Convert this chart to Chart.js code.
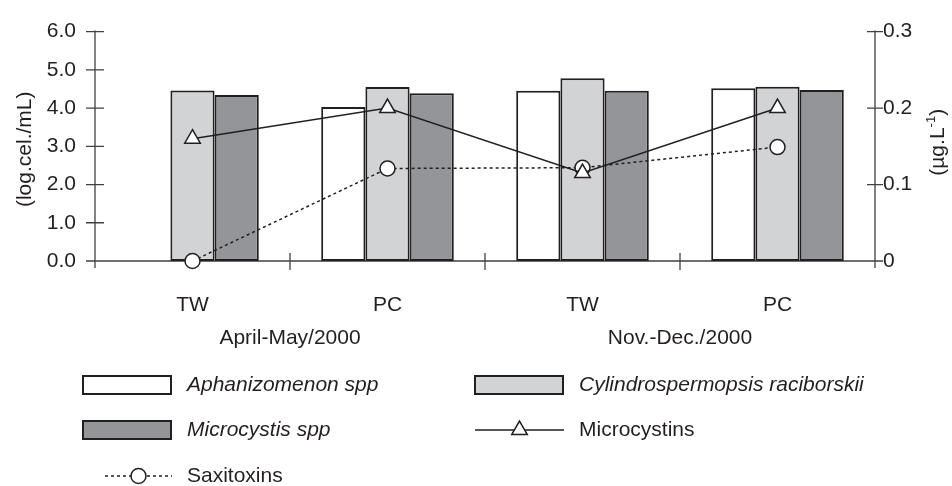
<!DOCTYPE html>
<html>
<head>
<meta charset="utf-8">
<script src="https://cdn.jsdelivr.net/npm/chart.js@4.4.1/dist/chart.umd.min.js"></script>
<style>
  html, body { margin: 0; padding: 0; background: #fff; }
</style>
</head>
<body>
<canvas id="chart" width="952" height="486"></canvas>
<script>
// values
const sites = ["TW", "PC", "TW", "PC"];
const periods = ["April-May/2000", "Nov.-Dec./2000"];
const aphanizomenon = [null, 4.03, 4.45, 4.52];   // log cel/mL
const cylindro = [4.46, 4.55, 4.78, 4.56];
const microcystis = [4.34, 4.39, 4.45, 4.47];
const microcystins = [0.16, 0.2, 0.115, 0.2];     // ug/L
const saxitoxins = [0, 0.121, 0.122, 0.149];
const cellTicks = [0, 1, 2, 3, 4, 5, 6];
const toxinTicks = [0, 0.1, 0.2, 0.3];

const ink = "#231f20";
const axisColor = "#414042";
const font = "Liberation Sans, Arial, sans-serif";

const axesPlugin = {
    id: "axes",
    beforeDatasetsDraw(chart) {
        const { ctx, chartArea: a, scales } = chart;
        ctx.save();
        ctx.strokeStyle = axisColor;
        ctx.lineWidth = 1.3;
        ctx.beginPath();
        // left axis + crossing ticks
        ctx.moveTo(a.left, a.top - 1);
        ctx.lineTo(a.left, a.bottom + 7);
        cellTicks.forEach(v => {
            const y = scales.y.getPixelForValue(v);
            ctx.moveTo(a.left - 9, y);
            ctx.lineTo(a.left + 9, y);
        });
        // right axis
        ctx.moveTo(a.right, a.top - 1);
        ctx.lineTo(a.right, a.bottom + 7);
        toxinTicks.forEach(v => {
            const y = scales.y1.getPixelForValue(v);
            ctx.moveTo(a.right - 8, y);
            ctx.lineTo(a.right + 8, y);
        });
        // bottom axis and category boundaries
        ctx.moveTo(a.left, a.bottom);
        ctx.lineTo(a.right, a.bottom);
        const half = (scales.x.getPixelForValue(1) - scales.x.getPixelForValue(0)) / 2;
        for (let i = 1; i < sites.length; i++) {
            const x = scales.x.getPixelForValue(i) - half;
            ctx.moveTo(x, a.bottom - 8);
            ctx.lineTo(x, a.bottom + 9);
        }
        ctx.stroke();
        ctx.restore();
    },
    afterDraw(chart) {
        const { ctx, chartArea: a, scales } = chart;
        const ds = chart.data.datasets;
        ctx.save();
        ctx.fillStyle = ink;
        ctx.textBaseline = "middle";

        // period labels under each pair of sites
        ctx.font = "21px " + font;
        ctx.textAlign = "center";
        periods.forEach((p, i) => {
            const x = (scales.x.getPixelForValue(i * 2) + scales.x.getPixelForValue(i * 2 + 1)) / 2;
            ctx.fillText(p, x, 338);
        });

        // axis titles
        const midY = (a.top + a.bottom) / 2;
        ctx.save();
        ctx.translate(25, midY + 3);
        ctx.rotate(-Math.PI / 2);
        ctx.fillText("(log.cel./mL)", 0, 0);
        ctx.restore();

        ctx.save();
        ctx.translate(938, midY - 4);
        ctx.rotate(-Math.PI / 2);
        ctx.textAlign = "left";
        const main = "(µg.L";
        ctx.font = "21px " + font;
        const w1 = ctx.measureText(main).width;
        const w3 = ctx.measureText(")").width;
        ctx.font = "13px " + font;
        const w2 = ctx.measureText("-1").width;
        let x0 = -(w1 + w2 + w3) / 2;
        ctx.font = "21px " + font;
        ctx.fillText(main, x0, 0);
        ctx.font = "13px " + font;
        ctx.fillText("-1", x0 + w1, -7);
        ctx.font = "21px " + font;
        ctx.fillText(")", x0 + w1 + w2, 0);
        ctx.restore();

        // legend
        const slots = [
            { d: 0, x: 83, y: 385 },
            { d: 1, x: 475, y: 385 },
            { d: 2, x: 83, y: 430 },
            { d: 3, x: 475, y: 430 },
            { d: 4, x: 83, y: 476 }
        ];
        slots.forEach(s => {
            const set = ds[s.d];
            if (set.type === "line") {
                const x1 = s.d === 4 ? s.x + 22 : s.x;
                const x2 = s.x + 89;
                const cx = (x1 + x2) / 2;
                ctx.save();
                ctx.strokeStyle = set.borderColor;
                ctx.lineWidth = set.borderWidth;
                ctx.setLineDash(set.borderDash || []);
                ctx.beginPath();
                ctx.moveTo(x1, s.y);
                ctx.lineTo(x2, s.y);
                ctx.stroke();
                ctx.setLineDash([]);
                ctx.lineWidth = 1.5;
                ctx.fillStyle = "#fff";
                ctx.strokeStyle = ink;
                Chart.helpers.drawPoint(ctx, {
                    pointStyle: set.pointStyle,
                    radius: set.pointRadius,
                    borderWidth: 1.5,
                    rotation: 0
                }, cx, s.y);
                ctx.restore();
                ctx.font = "21px " + font;
            } else {
                ctx.fillStyle = set.backgroundColor;
                ctx.fillRect(s.x, s.y - 9, 88, 18);
                ctx.strokeStyle = ink;
                ctx.lineWidth = 2;
                ctx.strokeRect(s.x, s.y - 9, 88, 18);
                ctx.font = "italic 21px " + font;
            }
            ctx.fillStyle = ink;
            ctx.textAlign = "left";
            ctx.fillText(set.label, s.x + 104, s.y);
        });
        ctx.restore();
    }
};

const barStyle = {
    type: "bar",
    yAxisID: "y",
    order: 2,
    borderColor: ink,
    borderWidth: 2,
    borderSkipped: false,
    categoryPercentage: 0.68,
    barPercentage: 1
};

const lineStyle = {
    type: "line",
    yAxisID: "y1",
    order: 1,
    borderColor: ink,
    borderWidth: 1.5,
    backgroundColor: "#fff",
    pointBackgroundColor: "#fff",
    pointBorderColor: ink,
    pointBorderWidth: 1.5,
    clip: false
};

new Chart(document.getElementById("chart"), {
    data: {
        labels: sites,
        datasets: [
            { ...barStyle, label: "Aphanizomenon spp", data: aphanizomenon, backgroundColor: "#ffffff" },
            { ...barStyle, label: "Cylindrospermopsis raciborskii", data: cylindro, backgroundColor: "#d1d3d4" },
            { ...barStyle, label: "Microcystis spp", data: microcystis, backgroundColor: "#939598" },
            { ...lineStyle, label: "Microcystins", data: microcystins, pointStyle: "triangle", pointRadius: 9 },
            { ...lineStyle, label: "Saxitoxins", data: saxitoxins, pointStyle: "circle", pointRadius: 7.5, borderDash: [3, 3] }
        ]
    },
    options: {
        responsive: false,
        animation: false,
        layout: { padding: { top: 21, left: 0, right: 0, bottom: 0 } },
        plugins: { legend: { display: false }, tooltip: { enabled: false } },
        scales: {
            x: {
                grid: { display: false, drawTicks: false },
                border: { display: false },
                ticks: { color: ink, font: { family: font, size: 21 }, padding: 32 },
                afterFit(scale) { scale.height = 225; }
            },
            y: {
                position: "left",
                min: 0,
                max: 6,
                afterBuildTicks(scale) { scale.ticks = cellTicks.map(v => ({ value: v })); },
                grid: { display: false, drawTicks: false },
                border: { display: false },
                ticks: {
                    color: ink,
                    font: { family: font, size: 21 },
                    padding: 19,
                    callback: v => v.toFixed(1)
                },
                afterFit(scale) { scale.width = 95; }
            },
            y1: {
                position: "right",
                min: 0,
                max: 0.3,
                afterBuildTicks(scale) { scale.ticks = toxinTicks.map(v => ({ value: v })); },
                grid: { display: false, drawTicks: false },
                border: { display: false },
                ticks: {
                    color: ink,
                    font: { family: font, size: 21 },
                    padding: 8,
                    callback: v => v === 0 ? "0" : v.toFixed(1)
                },
                afterFit(scale) { scale.width = 77; }
            }
        }
    },
    plugins: [axesPlugin]
});
</script>
</body>
</html>
